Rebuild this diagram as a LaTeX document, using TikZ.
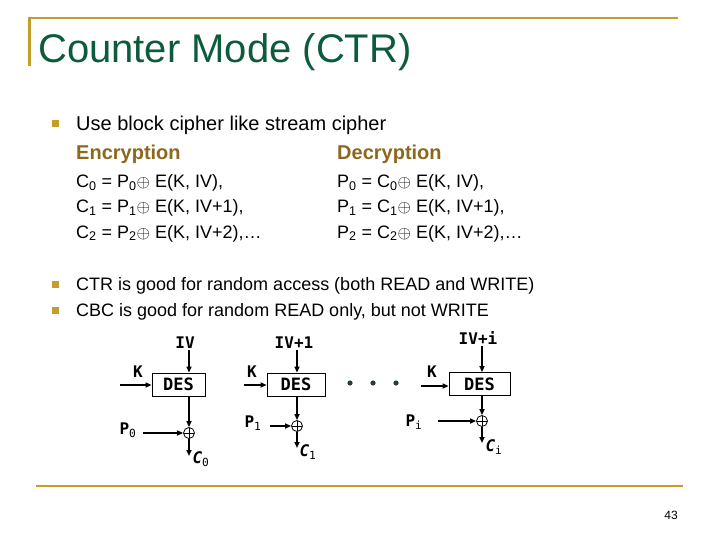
\documentclass[tikz,border=0pt]{standalone}
\usepackage{fontspec}
\setmainfont{Liberation Sans}
\newfontfamily\dfont{DejaVu Sans Mono}
\usetikzlibrary{arrows.meta}
\definecolor{titlegreen}{RGB}{12,92,60}
\definecolor{rulegold}{RGB}{196,158,42}
\definecolor{headbrown}{RGB}{140,104,30}
\definecolor{dotgreen}{RGB}{40,64,52}

\begin{document}
\begin{tikzpicture}[x=1pt,y=-1pt]
			\tikzset{txt/.style={anchor=base west, inner sep=0pt}}
			\tikzset{bul/.style={fill=rulegold, minimum size=7pt, inner sep=0pt}}
			\tikzset{desbox/.style={draw, line width=0.8pt, minimum height=23pt,
						inner sep=0pt, font=\dfont\bfseries\fontsize{17}{17}\selectfont}}
			\tikzset{lbl/.style={inner sep=1pt, font=\dfont\bfseries\fontsize{16}{16}\selectfont}}
			\tikzset{clbl/.style={lbl, font=\dfont\bfseries\itshape\fontsize{16}{16}\selectfont}}
			\tikzset{xorop/.style={circle, draw, line width=0.8pt, minimum size=11pt,
						inner sep=0pt, path picture={\draw[line width=0.8pt]
						(path picture bounding box.north) -- (path picture bounding box.south)
						(path picture bounding box.west) -- (path picture bounding box.east);}}}
			\tikzset{arr/.style={line width=1.6pt, -{Triangle[length=6pt, width=5pt]}}}
			\tikzset{gold/.style={draw=rulegold, line width=2.6pt}}

				\useasboundingbox (0,0) rectangle (720,540);

				% slide frame
				\draw[gold] (29.5,66) -- (29.5,18) -- (678,18);
				\draw[gold] (36,486) -- (683,486);
				\node[txt, text=titlegreen, font=\fontsize{40}{48}\selectfont] (title) at (38,63) {Counter Mode (CTR)};

				% first bullet
				\node[bul] (b1) at (55.5,124) {};
				\node[txt, font=\fontsize{20}{24}\selectfont] (use) at (76,131) {Use block cipher like stream cipher};
				\node[txt, text=headbrown, font=\bfseries\fontsize{20}{24}\selectfont] (enc) at (76,160) {Encryption};
				\node[txt, text=headbrown, font=\bfseries\fontsize{20}{24}\selectfont] (dec) at (337,160) {Decryption};

				\tikzset{eqn/.style={txt, font=\fontsize{18}{22}\selectfont}}
				\node[eqn] (enc0) at (76,188) {C\textsubscript{0} = P\textsubscript{0}$\oplus$ E(K, IV),};
				\node[eqn] (enc1) at (76,213) {C\textsubscript{1} = P\textsubscript{1}$\oplus$ E(K, IV+1),};
				\node[eqn] (enc2) at (76,238) {C\textsubscript{2} = P\textsubscript{2}$\oplus$ E(K, IV+2),\dots};
				\node[eqn] (dec0) at (337,188) {P\textsubscript{0} = C\textsubscript{0}$\oplus$ E(K, IV),};
				\node[eqn] (dec1) at (337,213) {P\textsubscript{1} = C\textsubscript{1}$\oplus$ E(K, IV+1),};
				\node[eqn] (dec2) at (337,238) {P\textsubscript{2} = C\textsubscript{2}$\oplus$ E(K, IV+2),\dots};

				% other bullets
				\node[bul] (b2) at (55.5,284) {};
				\node[eqn] (ctr) at (76,290) {CTR is good for random access (both READ and WRITE)};
				\node[bul] (b3) at (55.5,310) {};
				\node[eqn] (cbc) at (76,316) {CBC is good for random READ only, but not WRITE};

				% stage 0
				\node[lbl] (iv0) at (185,343) {IV};
				\node[desbox, minimum width=53pt] (des0) at (178.5,384.5) {DES};
				\node[lbl] (k0) at (138,372) {K};
				\coordinate (kin0) at (120,385);
				\node[xorop] (x0) at (189,433) {};
				\node[lbl] (p0) at (128,430) {P\textsubscript{\mdseries 0}};
				\coordinate (pin0) at (143,433);
				\coordinate (cout0) at (189,456);
				\node[clbl] (c0) at (201,459) {C\textsubscript{\mdseries\upshape 0}};

				\draw[arr] (x0 |- iv0.south) -- (x0 |- des0.north);
				\draw[arr] (kin0) -- (kin0 -| des0.west);
				\draw[arr] (x0 |- des0.south) -- (x0.north);
				\draw[arr] (pin0) -- (x0.west);
				\draw[arr] (x0.south) -- (cout0);

				% stage 1
				\node[lbl] (iv1) at (294,343) {IV+1};
				\node[desbox, minimum width=58pt] (des1) at (296,384.5) {DES};
				\node[lbl] (k1) at (252,372) {K};
				\coordinate (kin1) at (244,385);
				\node[xorop] (x1) at (297,426) {};
				\node[lbl] (p1) at (253,423) {P\textsubscript{\mdseries 1}};
				\coordinate (pin1) at (270,426);
				\coordinate (cout1) at (297,448);
				\node[clbl] (c1) at (308,452) {C\textsubscript{\mdseries\upshape 1}};

				\draw[arr] (x1 |- iv1.south) -- (x1 |- des1.north);
				\draw[arr] (kin1) -- (kin1 -| des1.west);
				\draw[arr] (x1 |- des1.south) -- (x1.north);
				\draw[arr] (pin1) -- (x1.west);
				\draw[arr] (x1.south) -- (cout1);

				% dots
				\fill[dotgreen] (350,383) circle (2.6pt) (373,383) circle (2.6pt) (396,383) circle (2.6pt);

				% stage i
				\node[lbl] (ivi) at (478,338) {IV+i};
				\node[desbox, minimum width=61pt] (desi) at (479.5,384) {DES};
				\node[lbl] (ki) at (432,372) {K};
				\coordinate (kini) at (421,386);
				\node[xorop] (xi) at (482,421) {};
				\node[lbl] (pi) at (414,422) {P\textsubscript{\mdseries i}};
				\coordinate (pini) at (438,421);
				\coordinate (couti) at (482,443);
				\node[clbl] (ci) at (494,447) {C\textsubscript{\mdseries\upshape i}};

				\draw[arr] (xi |- ivi.south) -- (xi |- desi.north);
				\draw[arr] (kini) -- (kini -| desi.west);
				\draw[arr] (xi |- desi.south) -- (xi.north);
				\draw[arr] (pini) -- (xi.west);
				\draw[arr] (xi.south) -- (couti);

				\node[font=\fontsize{12}{14}\selectfont] (page) at (671,515) {43};
		\end{tikzpicture}
\end{document}
